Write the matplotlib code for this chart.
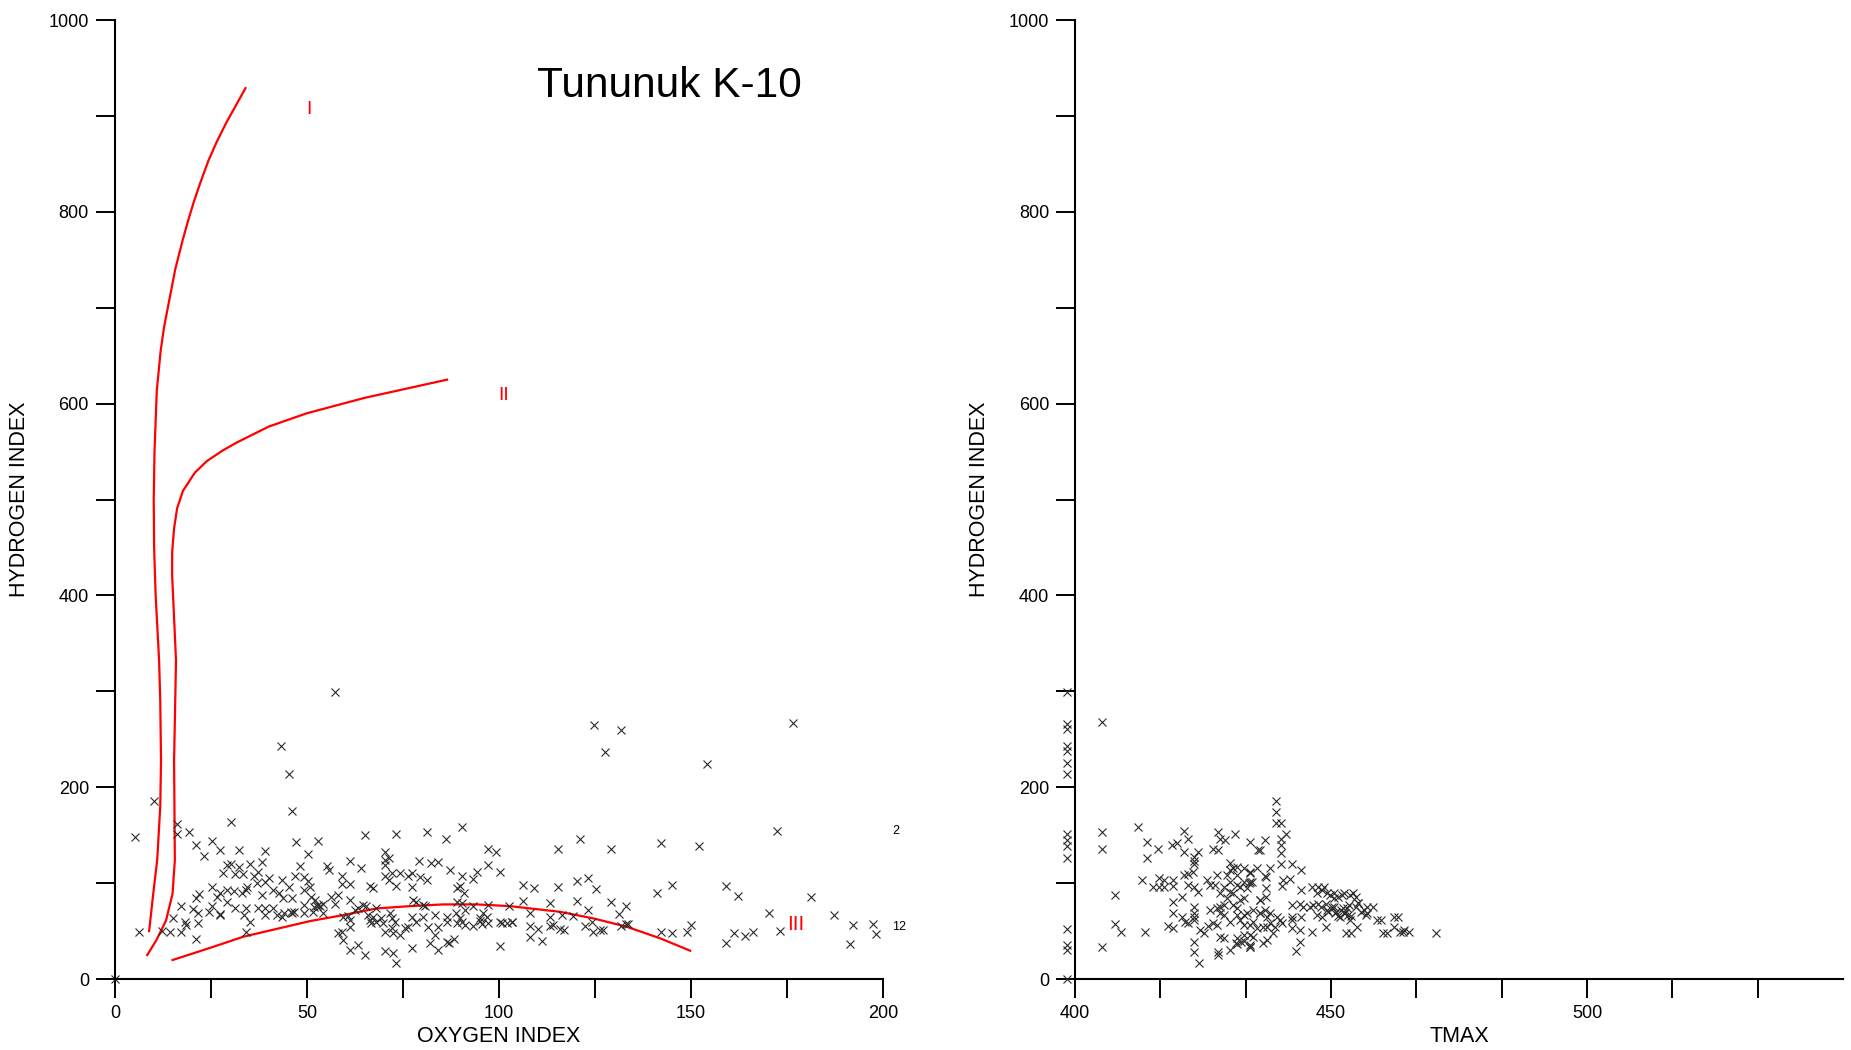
import numpy as np
import matplotlib
matplotlib.use("Agg")
import matplotlib.pyplot as plt

plt.rcParams['font.family'] = ['Liberation Sans', 'DejaVu Sans']

# --- Pseudo-Van Krevelen: oxygen index vs hydrogen index ---
oi = [0.0,
      10.2, 5.2, 16.2, 16.2, 19.3, 30.3, 46.2, 21.2, 25.3, 27.3, 23.3, 32.3, 39.2, 47.2, 52.9, 50.3,
      48.3, 29.3, 30.1, 28.2, 31.3, 32.3, 33.3, 35.2, 38.3, 37.2, 36.2, 40.2, 43.4, 47.0, 49.3, 50.3,
      45.3, 25.3, 34.4, 36.9, 39.2, 22.0, 27.3, 29.1, 31.0, 33.0, 34.1, 38.2, 41.2, 42.7, 43.7, 46.0,
      49.3, 50.9, 51.1, 52.7, 49.3, 21.0, 20.2, 17.2, 25.3, 24.4, 26.6, 27.3, 29.1, 31.3, 33.5, 34.1,
      35.2, 37.2, 39.2, 39.2, 41.2, 42.1, 43.5, 44.0, 45.8, 46.2, 46.6, 49.3, 51.5, 51.9, 21.5, 21.5,
      21.2, 18.3, 18.4, 15.2, 17.2, 14.3, 12.3, 6.3, 34.1, 27.3,
      57.3, 43.2, 45.2, 124.7, 131.8, 127.7, 154.1, 176.6,
      65.2, 73.3, 81.3, 90.3, 86.2, 97.2, 99.2, 70.2, 71.4, 70.3, 70.3, 61.3, 64.2, 55.3, 55.8, 79.3,
      82.2, 84.2, 87.2, 97.2, 100.3, 94.2, 93.3, 90.3, 72.1, 74.3, 77.3, 79.5, 81.3, 76.4, 70.3, 71.4,
      59.2, 59.2, 61.2, 66.4, 67.1, 73.2, 77.3, 89.1, 89.8, 90.9, 52.1, 53.4, 54.2, 53.0, 54.2, 56.2,
      58.2, 57.3, 61.2, 64.6, 65.3, 63.4, 62.5, 68.1, 59.5, 60.7, 61.2, 61.2, 59.0, 58.2, 59.5, 61.2,
      63.2, 65.2, 66.0, 66.4, 67.3, 66.8, 68.1, 69.4, 69.9, 70.3, 71.6, 72.1, 72.9, 72.1, 72.5, 74.2,
      75.5, 76.4, 73.3, 70.3, 72.4, 77.3, 77.7, 78.4, 80.3, 80.7, 77.3, 78.4, 80.3, 81.6, 83.3, 84.2,
      83.3, 82.1, 84.2, 86.4, 88.3, 87.1, 86.4, 86.4, 89.1, 90.3, 91.2, 88.7, 89.1, 90.3, 91.2, 89.9,
      93.3, 93.3, 95.1, 95.9, 96.8, 97.2, 95.1, 95.5, 97.2, 100.3, 100.7, 102.0, 103.3, 102.5, 100.3,
      115.3, 121.2, 129.2, 142.2, 152.2, 106.3, 109.2, 115.3, 120.2, 123.2, 125.2, 141.2, 145.1, 106.3,
      113.3, 120.2, 123.2, 129.2, 133.2, 131.2, 108.2, 113.3, 116.3, 119.2, 103.3, 108.2, 110.2, 108.2,
      111.3, 113.3, 114.2, 115.9, 117.0, 122.4, 124.2, 124.4, 126.3, 127.2, 131.9, 133.2, 133.6, 142.2,
      145.1, 149.1, 150.1,
      172.3, 159.2, 162.3, 181.3, 170.3, 187.3, 192.3, 197.3, 198.2, 191.3, 173.3, 159.2, 161.3, 164.2,
      166.2]
hi_oi = [0.0,
         185.4, 147.6, 161.5, 151.7, 153.5, 163.5, 174.7, 139.6, 144.4, 134.4, 128.5, 134.4, 133.7, 142.7,
         144.4, 130.5, 118.0, 118.8, 119.8, 110.8, 109.0, 116.3, 110.0, 119.5, 121.9, 111.8, 107.3, 104.9,
         103.1, 107.3, 106.6, 102.4, 96.2, 95.5, 95.5, 99.7, 101.4, 88.2, 89.2, 92.7, 91.7, 89.2, 92.7,
         87.5, 92.7, 89.2, 84.0, 84.0, 92.7, 96.2, 85.2, 76.0, 77.1, 84.0, 72.6, 76.0, 76.0, 69.4, 85.1,
         67.0, 79.9, 73.6, 66.3, 74.3, 59.7, 74.3, 74.3, 66.3, 73.6, 66.3, 64.9, 68.4, 70.1, 68.4, 70.1,
         68.4, 70.1, 75.3, 68.4, 58.0, 41.3, 59.4, 56.6, 63.9, 48.6, 49.3, 50.3, 48.6, 48.6, 67.5,
         299.7, 243.4, 213.5, 264.5, 259.2, 236.3, 223.9, 267.3,
         149.7, 151.4, 153.5, 158.7, 146.5, 135.4, 132.0, 132.6, 126.4, 124.0, 118.8, 122.9, 115.6, 117.4,
         113.2, 122.9, 120.5, 121.9, 113.2, 118.8, 111.8, 111.8, 104.2, 107.3, 110.1, 110.1, 110.8, 106.6,
         103.1, 107.9, 107.9, 103.1, 107.9, 98.6, 98.6, 96.9, 95.1, 96.9, 95.5, 94.5, 96.9, 89.9, 82.8,
         75.9, 78.7, 77.1, 68.4, 85.8, 87.5, 78.7, 82.4, 77.1, 76.0, 73.6, 71.9, 73.6, 64.9, 65.6, 61.4,
         54.5, 49.3, 47.6, 40.6, 30.2, 35.4, 25.0, 66.7, 61.4, 64.9, 57.9, 59.7, 63.2, 57.9, 49.3, 68.4,
         63.2, 59.7, 52.8, 47.6, 45.8, 52.8, 54.5, 16.3, 29.5, 27.4, 31.9, 82.4, 80.6, 77.1, 76.0, 64.9,
         59.7, 64.9, 54.5, 66.7, 54.5, 45.8, 37.1, 30.2, 38.9, 41.3, 37.8, 64.9, 59.7, 80.6, 78.9, 72.0,
         68.4, 58.0, 59.7, 56.2, 63.2, 75.9, 55.2, 63.9, 68.4, 64.9, 58.0, 60.4, 56.9, 77.1, 59.7, 58.6,
         58.0, 59.7, 75.9, 34.7,
         135.4, 146.2, 135.4, 141.7, 139.2, 97.6, 94.5, 95.9, 102.4, 105.5, 93.8, 89.2, 97.6, 81.6, 79.5,
         81.6, 72.0, 80.6, 76.4, 67.4, 68.4, 64.2, 66.7, 65.3, 59.7, 55.2, 52.4, 44.3, 39.8, 55.2, 56.2,
         51.7, 51.0, 55.5, 59.0, 48.6, 51.4, 51.0, 55.5, 57.6, 57.6, 48.6, 47.9, 49.0, 55.9,
         154.5, 96.9, 86.5, 85.4, 68.4, 66.7, 56.6, 57.6, 47.2, 36.5, 50.3, 37.8, 47.6, 45.1, 48.6]

# kerogen type boundaries (OI, HI)
type1_oi = [8.9, 10.0, 11.0, 11.8, 12.0, 11.8, 11.5, 10.6, 10.2, 10.1, 10.3, 10.9, 11.9, 12.8, 14.1,
            15.7, 17.6, 19.0, 20.5, 22.2, 24.3, 26.5, 29.0, 31.5, 34.0]
type1_hi = [50, 90, 124, 180, 228, 290, 332, 400, 450, 500, 550, 614, 655, 680, 707,
            740, 770, 790, 810, 830, 853, 873, 893, 911, 929]
type2_oi = [8.4, 10.8, 13.3, 15.0, 15.6, 15.4, 15.9, 15.5, 14.9, 14.9, 15.4, 16.2, 17.7, 20.8, 23.9,
            28.0, 31.5, 40.0, 50.0, 65.0, 86.5]
type2_hi = [25, 40.6, 61, 89, 124, 228, 332, 368, 420, 445, 470, 491, 509, 528, 540,
            551, 559, 576, 590, 606, 625]
type3_oi = [15.0, 25.7, 33.4, 50.8, 59.5, 68.1, 76.8, 85.5, 94.2, 102.9, 115.9, 124.6, 133.3, 142.0,
            149.8]
type3_hi = [19.8, 33.7, 44.1, 60.4, 66.7, 73.6, 76.0, 77.8, 77.8, 76.0, 70.1, 63.2, 54.5, 42.4, 29.5]

# --- Tmax vs hydrogen index ---
tmax = [398.4, 398.4, 398.4, 398.4, 398.4, 398.4, 398.4, 398.4, 398.4, 398.4, 398.4, 398.4, 398.4,
        398.4, 398.4, 405.2, 405.2, 405.2, 405.2,
        412.2, 414.1, 416.2, 414.1, 421.2, 422.1, 419.9, 418.9, 421.2, 423.2, 423.2, 424.1, 423.2,
        428.0, 428.3, 429.3, 431.3, 434.2, 435.8, 427.0, 428.0, 413.1, 415.3, 416.3, 417.3, 416.3,
        417.3, 419.2, 419.2, 407.8, 421.2, 422.1, 423.1, 420.8, 422.1, 423.2, 424.1, 425.7, 426.4,
        427.3, 427.7, 419.2, 419.2, 420.8, 421.5, 422.1, 423.2, 423.2, 423.2, 423.2, 424.4, 425.1,
        426.0, 418.2, 419.2, 407.8, 408.9, 413.6, 423.2, 423.2, 424.2, 428.0, 428.0, 430.3, 431.6,
        432.9, 434.2, 427.7, 429.0, 429.6, 430.3, 430.9, 429.6, 430.3, 429.0, 430.3, 431.6, 432.9,
        433.5, 434.5, 435.5, 434.8, 435.5, 432.9, 431.6, 429.0, 427.7, 426.4, 430.3, 431.6, 432.9,
        434.2, 430.3, 431.6, 432.9, 434.2, 431.6, 430.9, 431.6, 432.9, 432.9, 434.2, 434.2, 434.2,
        430.9, 432.2, 433.9, 434.2, 432.2, 433.5, 432.2, 434.8, 436.1, 436.1, 437.4, 437.4, 437.2,
        437.2, 437.2, 428.4, 428.4, 428.4, 426.9, 428.4, 429.0, 434.1, 434.7, 432.4, 431.4,
        439.2, 439.2, 439.2, 440.2, 441.2, 440.2, 440.2, 440.2, 440.2, 442.3, 444.2, 437.1, 436.1,
        438.1, 437.1, 440.7, 442.0, 440.4, 444.2, 446.2, 447.5, 447.2, 448.2, 449.8, 450.5, 452.1,
        453.7, 442.3, 443.9, 444.6, 445.9, 446.5, 447.5, 449.1, 450.1, 451.0, 452.3, 453.6, 454.9,
        455.8, 456.8, 457.1, 447.2, 448.2, 449.5, 450.8, 451.8, 452.8, 453.4, 453.7, 455.0, 458.9,
        460.2, 462.2, 463.1, 462.2, 463.5, 464.1, 470.5, 449.1, 453.0, 444.2, 443.9, 446.2, 442.3,
        442.3, 442.3, 444.0, 443.1, 436.1, 437.1, 438.1, 439.4, 440.4, 436.8, 438.1, 438.7, 436.8,
        440.0, 436.1, 437.4, 439.0, 455.2, 456.5, 457.1, 458.1, 459.7, 461.0, 464.3, 465.3, 453.9,
        448.1, 449.3, 450.6, 451.9, 452.6, 453.2, 451.3, 453.9, 452.6, 454.2, 454.8, 455.2, 451.3,
        450.6, 449.3, 448.7]
hi_tmax = [299.7, 266.3, 261.1, 243.4, 237.5, 225.3, 213.5, 151.0, 144.8, 138.5, 125.7, 51.7, 35.4,
           30.2, 0.0, 268.4, 153.3, 135.4, 33.6,
           158.7, 142.4, 135.4, 125.7, 154.5, 146.5, 141.4, 139.6, 132.6, 123.5, 127.0, 132.3, 120.1,
           153.3, 146.5, 144.8, 151.7, 142.4, 134.4, 136.1, 134.4, 103.1, 96.2, 104.9, 103.1, 95.5,
           95.5, 103.1, 96.9, 87.5, 108.0, 109.7, 111.5, 85.8, 97.6, 95.9, 90.6, 103.1, 97.9, 97.9,
           108.3, 80.6, 68.4, 64.9, 59.7, 57.9, 75.3, 68.4, 64.9, 61.4, 51.0, 47.6, 55.2, 55.2, 52.8,
           57.6, 48.6, 48.6, 38.8, 27.7, 16.3, 28.5, 25.0, 30.2, 36.5, 40.0, 33.6, 73.6, 77.1, 84.0,
           101.4, 115.3, 108.3, 91.0, 66.7, 59.7, 73.6, 84.0, 94.5, 101.4, 115.3, 59.7, 52.8, 45.8,
           42.4, 42.4, 56.2, 71.9, 120.5, 117.0, 115.3, 111.8, 113.5, 108.3, 101.4, 101.4, 97.9, 77.1,
           66.7, 66.7, 56.2, 56.2, 45.8, 35.4,
           89.2, 96.2, 99.7, 110.1, 82.3, 68.4, 61.5, 71.9, 82.3, 68.4, 54.5, 40.6, 106.6,
           94.5, 85.8, 89.2, 75.3, 68.4, 58.0, 44.1, 96.2, 33.6, 44.1, 38.9, 37.1,
           185.7, 174.3, 162.9, 162.9, 151.7, 146.5, 139.6, 130.9, 119.8, 119.8, 113.9, 144.8, 134.4,
           115.3, 107.3, 103.1, 103.8, 96.9, 92.7, 96.2, 96.2, 89.2, 92.7, 87.5, 84.0, 87.5, 87.5,
           77.1, 78.2, 75.3, 75.3, 77.1, 78.7, 78.7, 75.3, 70.1, 73.6, 77.1, 75.3, 70.1, 66.7, 75.3,
           66.7, 65.0, 70.1, 68.4, 65.0, 68.4, 66.7, 61.5, 54.5, 61.5, 48.3, 64.2, 64.2, 54.5, 49.3,
           49.3, 48.3, 53.8, 47.6, 65.0, 51.0, 49.3, 65.0, 61.5, 52.8, 38.5, 29.2, 82.3, 71.9, 68.4,
           65.0, 58.0, 54.5, 58.0, 47.6, 37.3, 61.5, 68.4, 65.0, 54.5, 78.8, 71.9, 68.4, 75.3, 61.5,
           48.3, 51.0, 49.3, 48.3,
           75.3, 71.9, 75.3, 71.9, 68.4, 73.6, 65.7, 65.7, 89.2, 89.2, 85.8, 78.8, 85.8,
           89.2, 89.2, 96.2]

title = "Tununuk K-10"
red = "#ff0000"
mark = dict(marker="x", linestyle="None", markersize=5.2, markeredgewidth=0.8,
            color="#2a2a2a", clip_on=False)

fig = plt.figure(figsize=(18.51, 10.5), dpi=100)
ax1 = fig.add_axes([0.0621, 0.0676, 0.4149, 0.9133])
ax2 = fig.add_axes([0.5808, 0.0676, 0.4149, 0.9133])


def style_axes(ax):
    for side in ("top", "right"):
        ax.spines[side].set_visible(False)
    for side in ("left", "bottom"):
        ax.spines[side].set_linewidth(1.5)
    ax.tick_params(direction="out", length=13.7, width=1.4, labelsize=13, pad=5)
    ax.set_ylim(0, 1000)
    ax.set_yticks(np.arange(0, 1001, 100))
    ax.set_yticklabels([str(v) if v % 200 == 0 else "" for v in range(0, 1001, 100)])
    ax.set_ylabel("HYDROGEN INDEX", fontsize=15.5)
    ax.yaxis.set_label_coords(-0.111, 0.5)
    ax.xaxis.set_label_coords(0.5, -0.049)


# left panel
style_axes(ax1)
ax1.set_xlim(0, 200)
ax1.set_xticks(np.arange(0, 201, 25))
ax1.set_xticklabels([str(v) if v % 50 == 0 else "" for v in range(0, 201, 25)])
ax1.set_xlabel("OXYGEN INDEX", fontsize=15.5)

ax1.plot(type1_oi, type1_hi, color=red, lw=1.6)
ax1.plot(type2_oi, type2_hi, color=red, lw=1.6)
ax1.plot(type3_oi, type3_hi, color=red, lw=1.6)
ax1.plot(oi, hi_oi, **mark)

ax1.text(50.6, 907, "I", color=red, fontsize=14, ha="center", va="center")
ax1.text(101.3, 608, "II", color=red, fontsize=14, ha="center", va="center")
ax1.text(177.2, 57, "III", color=red, fontsize=15, ha="center", va="center")
ax1.text(202.5, 154.5, "2", fontsize=9, ha="left", va="center", clip_on=False)
ax1.text(202.5, 54.5, "12", fontsize=9, ha="left", va="center", clip_on=False)
ax1.text(144.5, 931, title, fontsize=30.5, ha="center", va="center")

# right panel
style_axes(ax2)
ax2.set_xlim(400, 550)
xt = 400 + np.arange(9) * 50 / 3
ax2.set_xticks(xt)
ax2.set_xticklabels(["400", "", "", "450", "", "", "500", "", ""])
ax2.set_xlabel("TMAX", fontsize=15.5)
ax2.plot(tmax, hi_tmax, **mark)

fig.savefig("out.png", dpi=100)
